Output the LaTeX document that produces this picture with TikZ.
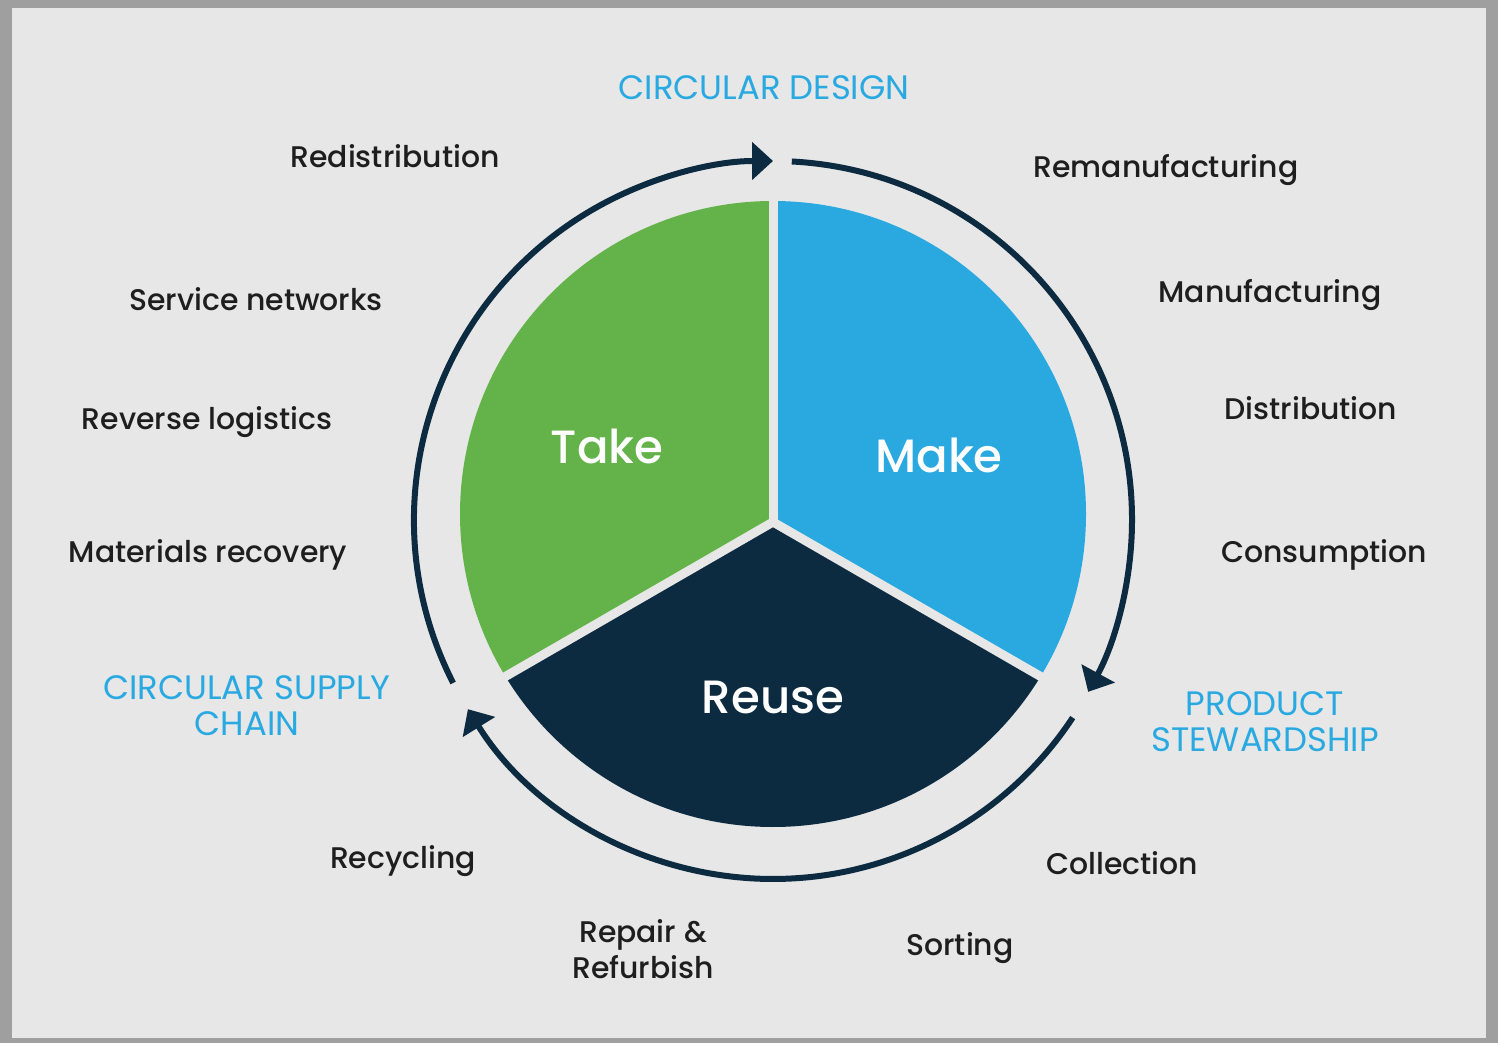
\documentclass[tikz,border=0pt]{standalone}
\usepackage{fontspec}
\setmainfont{Poppins}
\newfontfamily\pmed{Poppins Medium}
\usetikzlibrary{arrows.meta}
\definecolor{bgc}{HTML}{E7E7E7}
\definecolor{framec}{HTML}{9F9F9F}
\definecolor{tgreen}{HTML}{64B34A}
\definecolor{tblue}{HTML}{2AA8E0}
\definecolor{navy}{HTML}{0D2B40}
\definecolor{ttlblue}{HTML}{29A9E1}
\definecolor{txt}{HTML}{1E1E1E}
\begin{document}
\begin{tikzpicture}[x=0.75pt,y=0.75pt,
  lbl/.style={font=\pmed\fontsize{22.4pt}{27pt}\selectfont, text=txt, align=center, inner sep=0pt},
  ttl/.style={font=\fontsize{25.4pt}{27pt}\selectfont, text=ttlblue, align=center, inner sep=0pt},
  big/.style={font=\pmed\fontsize{35pt}{40pt}\selectfont, text=white, inner sep=0pt},
  ring/.style={draw=navy, line width=4.5pt, -{Triangle[length=15.75pt,width=27.75pt]}},
  gapline/.style={draw=bgc, line width=6.75pt}]
\useasboundingbox (0,0) rectangle (1498,1043);
\fill[framec] (0,0) rectangle (1498,1043);
\fill[bgc] (12,5) rectangle (1486,1035);
\coordinate (C) at (773,529);
\coordinate (J) at (773,521);
\coordinate (R) at (773,523);
% pie
\begin{scope}
  \clip (C) circle[radius=234.75pt];
  \fill[tgreen] (J) -- +(90:600) -- +(150:1200) -- +(210:600) -- cycle;
  \fill[tblue] (J) -- +(-30:600) -- +(30:1200) -- +(90:600) -- cycle;
  \fill[navy] (J) -- +(210:600) -- +(270:1200) -- +(330:600) -- cycle;
\end{scope}
\draw[gapline] (J) -- +(90:400);
\draw[gapline] (J) -- +(210:400);
\draw[gapline] (J) -- +(330:400);
\fill[bgc] (J) circle[radius=3.4pt];
% ring
\draw[ring] (R) ++(207:359) arc[start angle=207, end angle=90, radius=269.25pt];
\draw[ring] (R) ++(87:359) arc[start angle=87, end angle=-28.6, radius=269.25pt];
\draw[ring] (R) ++(-33.4:359) arc[start angle=-33.4, end angle=-148.2, radius=269.25pt];
% big labels
\node[big] (take) at (607,597) {Take};
\node[big] (make) at (939,588) {Make};
\node[big] (reuse) at (773,346) {Reuse};
% titles
\node[ttl] (design) at (764,955) {CIRCULAR DESIGN};
\node[ttl] (supply) at (247,337) {CIRCULAR SUPPLY\\CHAIN};
\node[ttl] (steward) at (1265,321) {PRODUCT\\STEWARDSHIP};
% labels
\node[lbl] (redis) at (395,887) {Redistribution};
\node[lbl] (reman) at (1166,873) {Remanufacturing};
\node[lbl] (service) at (256,744) {Service networks};
\node[lbl] (manuf) at (1270,748) {Manufacturing};
\node[lbl] (reverse) at (207,621) {Reverse logistics};
\node[lbl] (distr) at (1311,635) {Distribution};
\node[lbl] (matrec) at (208,488) {Materials recovery};
\node[lbl] (consum) at (1324,488) {Consumption};
\node[lbl] (recyc) at (403,182) {Recycling};
\node[lbl] (collect) at (1122,180) {Collection};
\node[lbl] (repair) at (643,94) {Repair \&\\Refurbish};
\node[lbl] (sorting) at (960,95) {Sorting};
\end{tikzpicture}
\end{document}
